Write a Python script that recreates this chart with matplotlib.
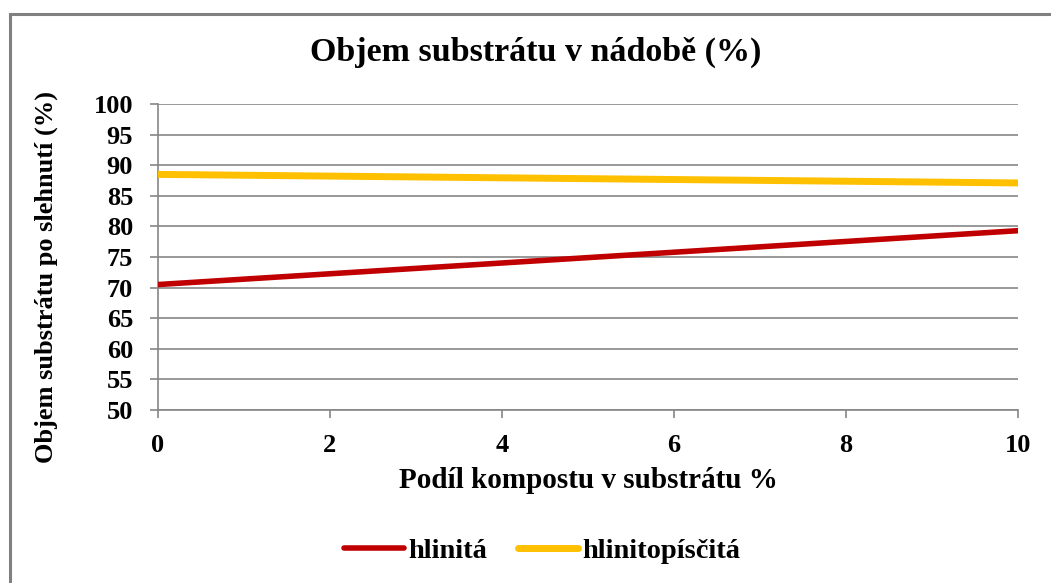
import matplotlib
matplotlib.use("Agg")
import matplotlib.pyplot as plt
from matplotlib.patches import Rectangle

# Data
x_vals = [0, 10]
hlinita = [70.5, 79.3]
hlinitopiscita = [88.5, 87.1]
series_names = ["hlinitá", "hlinitopísčitá"]
x_ticks = [0, 2, 4, 6, 8, 10]
y_ticks = [50, 55, 60, 65, 70, 75, 80, 85, 90, 95, 100]

title = "Objem substrátu v nádobě (%)"
xlabel = "Podíl kompostu v substrátu %"
ylabel = "Objem substrátu po slehnutí (%)"

plt.rcParams['font.family'] = ['Liberation Serif', 'DejaVu Serif']
plt.rcParams['font.weight'] = 'bold'

W, H = 1051, 583
fig = plt.figure(figsize=(W / 100, H / 100), dpi=100)
fig.patch.set_facecolor('white')

# outer chart border (only top and left visible)
fig.patches.append(Rectangle((10 / W, -0.2), 1.2, 1 - 14 / H + 0.2, transform=fig.transFigure,
                             fill=False, edgecolor='#808080', linewidth=2.2, zorder=0))

left, right, bottom, top = 158 / W, 1018 / W, 1 - 410 / H, 1 - 104 / H
ax = fig.add_axes([left, bottom, right - left, top - bottom])

grid_color = '#868686'
l1, = ax.plot(x_vals, hlinita, color='#C00000', linewidth=4, solid_capstyle='round', zorder=3)
l2, = ax.plot(x_vals, hlinitopiscita, color='#FFC000', linewidth=5, solid_capstyle='round', zorder=3)

ax.set_xlim(0, 10)
ax.set_ylim(50, 100)
ax.set_xticks(x_ticks)
ax.set_yticks(y_ticks)
ax.yaxis.grid(True, color=grid_color, linewidth=1.2)
ax.set_axisbelow(True)
for s in ['top', 'right']:
    ax.spines[s].set_visible(False)
for s in ['left', 'bottom']:
    ax.spines[s].set_color(grid_color)
    ax.spines[s].set_linewidth(1.2)

ax.tick_params(axis='both', direction='out', color=grid_color, width=1.2, length=6,
               labelsize=19)
ax.tick_params(axis='y', pad=12)
ax.tick_params(axis='x', pad=11)
for lab in ax.get_xticklabels() + ax.get_yticklabels():
    lab.set_fontweight('bold')

fig.text(536 / W, 1 - 52 / H, title, ha='center', va='center', fontsize=24.5, fontweight='bold')
fig.text(588 / W, 1 - 480 / H, xlabel, ha='center', va='center', fontsize=21, fontweight='bold')
fig.text(46 / W, 1 - 277 / H, ylabel, ha='center', va='center', rotation=90,
         fontsize=19, fontweight='bold')

fig.legend([l1, l2], series_names, loc='center', bbox_to_anchor=(542 / W, 1 - 551 / H),
           ncol=2, frameon=False, handlelength=2.1, handletextpad=0.15, columnspacing=1.1,
           prop={'size': 20.5, 'weight': 'bold'})

fig.savefig('out.png', dpi=100)
